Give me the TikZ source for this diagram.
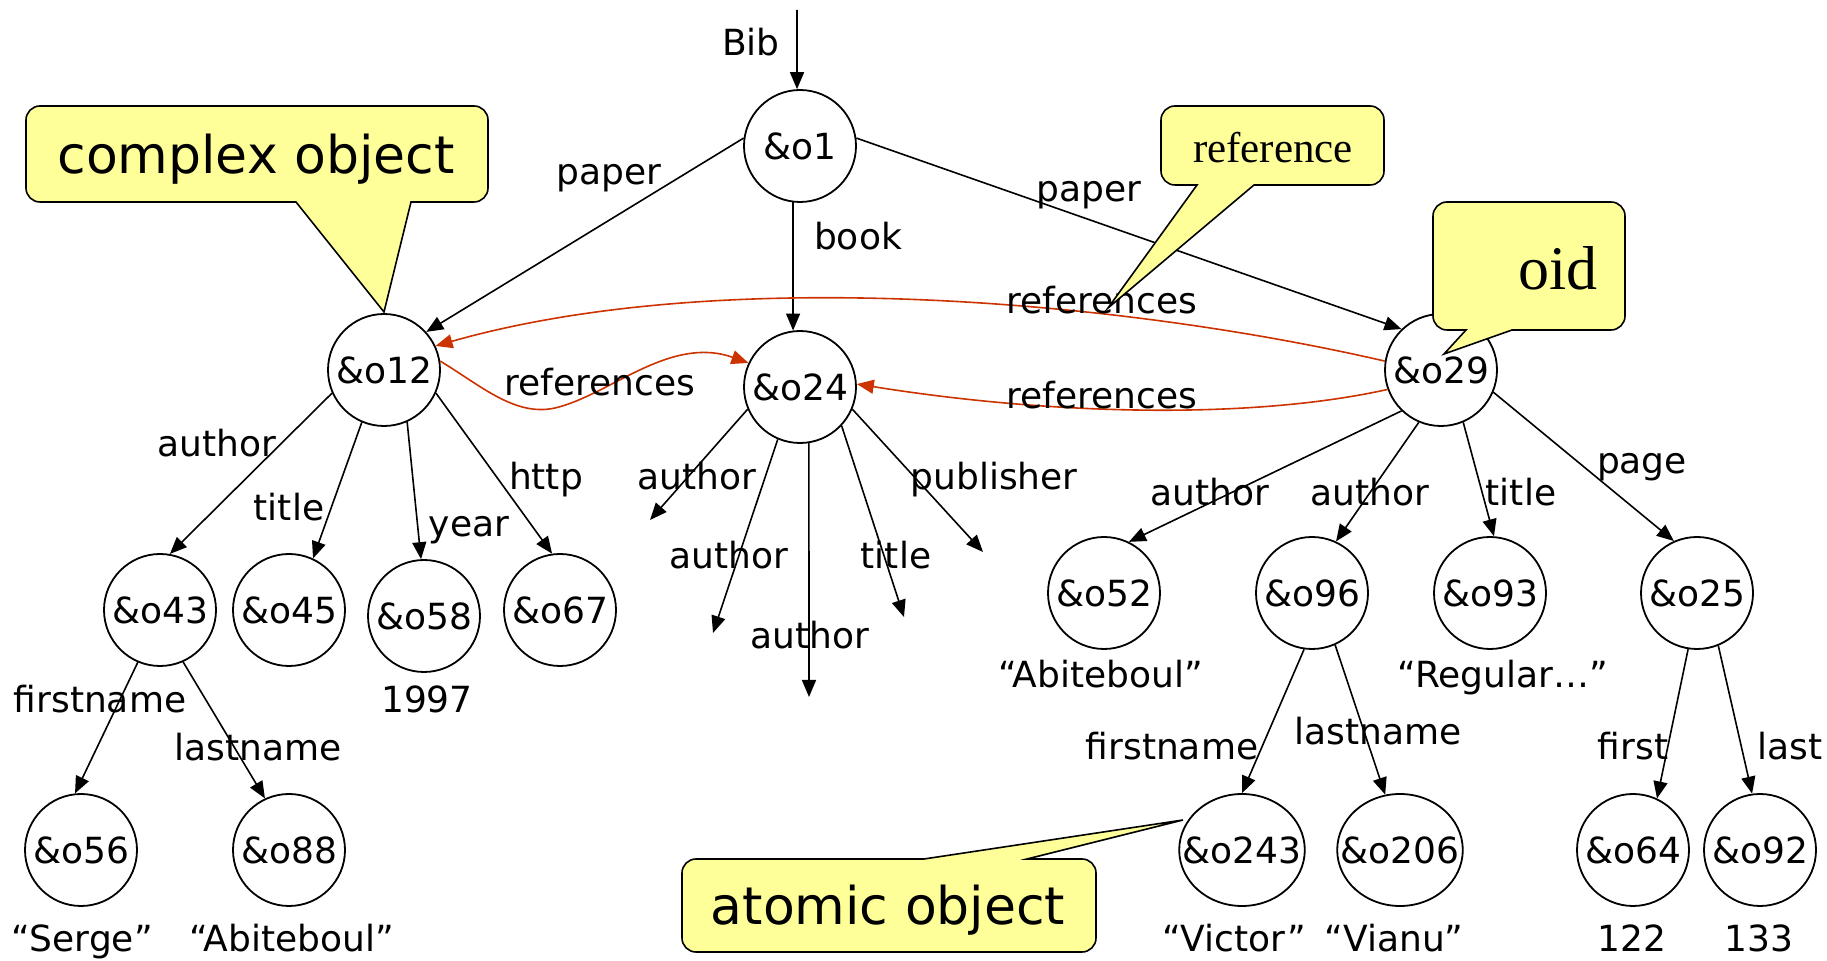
\documentclass[tikz,border=0pt]{standalone}
\usepackage{fontspec}
\setmainfont{DejaVu Sans}
\newfontfamily\notefont{Liberation Serif}
\usetikzlibrary{arrows.meta,shapes.geometric}
\definecolor{refred}{RGB}{204,51,0}
\definecolor{noteyellow}{RGB}{255,255,153}
\tikzset{
  obj/.style={draw, ellipse, line width=0.9pt, minimum width=56pt, minimum height=56pt,
    inner sep=-7.5pt, font=\fontsize{18}{20}\selectfont},
  lbl/.style={inner sep=0pt, text height=13pt, text depth=0pt, font=\fontsize{18}{20}\selectfont},
  edge/.style={line width=0.8pt, -{Triangle[length=8.5pt,width=7pt]}},
  refedge/.style={edge, draw=refred},
  callout/.style={draw, fill=noteyellow, line width=0.8pt},
  notetext/.style={inner sep=0pt, text height=19pt, text depth=0pt, font=\fontsize{26}{28}\selectfont},
}
\begin{document}
\begin{tikzpicture}[x=0.5pt, y=-0.5pt]
  \useasboundingbox[fill=white] (0,0) rectangle (1827,961);
  % objects
  \node[obj] (o1) at (800,146) {\&o1};
  \node[obj] (o12) at (384,370) {\&o12};
  \node[obj] (o24) at (800,387) {\&o24};
  \node[obj] (o29) at (1441,370) {\&o29};
  \node[obj] (o43) at (160,610) {\&o43};
  \node[obj] (o45) at (289,610) {\&o45};
  \node[obj] (o58) at (424,616) {\&o58};
  \node[obj] (o67) at (560,610) {\&o67};
  \node[obj] (o56) at (81,850) {\&o56};
  \node[obj] (o88) at (289,850) {\&o88};
  \node[obj] (o52) at (1104,593) {\&o52};
  \node[obj] (o96) at (1312,593) {\&o96};
  \node[obj] (o93) at (1490,593) {\&o93};
  \node[obj] (o25) at (1697,593) {\&o25};
  \node[obj] (o243) at (1242,850) {\&o243};
  \node[obj] (o206) at (1400,850) {\&o206};
  \node[obj] (o64) at (1633,850) {\&o64};
  \node[obj] (o92) at (1760,850) {\&o92};
  % free ends
  \coordinate (root) at (797,10);
  \coordinate (d1) at (650,520);
  \coordinate (d2) at (713,633);
  \coordinate (d3) at (809,697);
  \coordinate (d4) at (904,617);
  \coordinate (d5) at (983,552);
  \coordinate (dip) at (555,408);
  % edges
  \draw[edge] (root) -- (o1.93);
  \draw[edge] (o1.172) -- (o12.42);
  \draw[edge] (o1.263) -- (o24.97);
  \draw[edge] (o1.8) -- (o29.134);
  \draw[edge] (o12.204) -- (o43.80);
  \draw[edge] (o12.247) -- (o45.65);
  \draw[edge] (o12.294) -- (o58.93);
  \draw[edge] (o12.336) -- (o67.98);
  \draw[edge] (o43.247) -- (o56.96);
  \draw[edge] (o43.294) -- (o88.115);
  \draw[edge] (o24.203) -- (d1);
  \draw[edge] (o24.247) -- (d2);
  \draw[edge] (o24.279) -- (d3);
  \draw[edge] (o24.317) -- (d4);
  \draw[edge] (o24.337) -- (d5);
  \draw[edge] (o29.226) -- (o52.64);
  \draw[edge] (o29.247) -- (o96.65);
  \draw[edge] (o29.293) -- (o93.86);
  \draw[edge] (o29.337) -- (o25.114);
  \draw[edge] (o96.262) -- (o243.90);
  \draw[edge] (o96.294) -- (o206.105);
  \draw[edge] (o25.261) -- (o64.65);
  \draw[edge] (o25.292) -- (o92.98);
  % references
  \draw[refedge] (o29.171) .. controls (1120,300) and (720,265) .. (o12.25);
  \draw[refedge] (o12.9) .. controls (480,385) and (515,417) .. (dip)
    .. controls (610,395) and (670,335) .. (o24.155);
  \draw[refedge] (o29.200) .. controls (1250,420) and (1050,415) .. (o24.3);
  % labels
  \node[lbl] (l-bib) at (751,43) {Bib};
  \node[lbl] (l-paper1) at (609,172) {paper};
  \node[lbl] (l-book) at (858,237) {book};
  \node[lbl] (l-paper2) at (1089,189) {paper};
  \node[lbl] (l-ref1) at (1102,301) {references};
  \node[lbl] (l-ref2) at (600,383) {references};
  \node[lbl] (l-ref3) at (1102,396) {references};
  \node[lbl] (l-author1) at (217,444) {author};
  \node[lbl] (l-title1) at (289,508) {title};
  \node[lbl] (l-year) at (469,524) {year};
  \node[lbl] (l-http) at (546,477) {http};
  \node[lbl] (l-author2) at (697,477) {author};
  \node[lbl] (l-author3) at (729,556) {author};
  \node[lbl] (l-author4) at (810,636) {author};
  \node[lbl] (l-title2) at (896,556) {title};
  \node[lbl] (l-publisher) at (994,477) {publisher};
  \node[lbl] (l-author5) at (1210,493) {author};
  \node[lbl] (l-author6) at (1370,493) {author};
  \node[lbl] (l-title3) at (1521,493) {title};
  \node[lbl] (l-page) at (1642,461) {page};
  \node[lbl] (l-first1) at (100,700) {firstname};
  \node[lbl] (l-last1) at (258,748) {lastname};
  \node[lbl] (v-1997) at (427,700) {1997};
  \node[lbl] (v-serge) at (82,939) {“Serge”};
  \node[lbl] (v-abit1) at (292,939) {“Abiteboul”};
  \node[lbl] (v-abit2) at (1101,675) {“Abiteboul”};
  \node[lbl] (v-regular) at (1503,675) {“Regular…”};
  \node[lbl] (l-first2) at (1172,747) {firstname};
  \node[lbl] (l-last2) at (1378,732) {lastname};
  \node[lbl] (l-first3) at (1633,747) {first};
  \node[lbl] (l-last3) at (1790,747) {last};
  \node[lbl] (v-victor) at (1234,939) {“Victor”};
  \node[lbl] (v-vianu) at (1394,939) {“Vianu”};
  \node[lbl] (v-122) at (1632,939) {122};
  \node[lbl] (v-133) at (1759,939) {133};
  % callouts
  \draw[callout] (411,202) -- (384,312) -- (296,202) [rounded corners=7pt] -- (26,202)
    -- (26,106) -- (488,106) -- (488,202) [sharp corners] -- cycle;
  \node[notetext] (n-complex) at (256,155) {complex object};
  \draw[callout] (1254,185) -- (1108,308) -- (1197,185) [rounded corners=7pt] -- (1161,185)
    -- (1161,106) -- (1384,106) -- (1384,185) [sharp corners] -- cycle;
  \node[inner sep=0pt, font=\notefont\fontsize{21.5}{24}\selectfont] (n-reference) at (1273,148) {reference};
  \draw[callout] (1512,330) -- (1444,354) -- (1466,330) [rounded corners=7pt] -- (1433,330)
    -- (1433,202) -- (1625,202) -- (1625,330) [sharp corners] -- cycle;
  \node[inner sep=0pt, font=\notefont\fontsize{31}{34}\selectfont] (n-oid) at (1558,268) {oid};
  \draw[callout] (924,859) -- (1183,820) -- (1027,859) [rounded corners=7pt] -- (1096,859)
    -- (1096,952) -- (682,952) -- (682,859) [sharp corners] -- cycle;
  \node[notetext] (n-atomic) at (888,906) {atomic object};
\end{tikzpicture}
\end{document}
